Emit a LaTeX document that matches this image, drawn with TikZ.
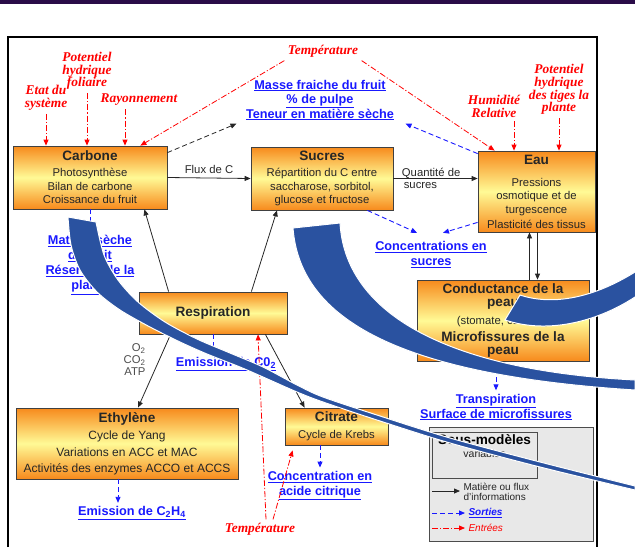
\documentclass[tikz,border=0pt]{standalone}
\usepackage{fontspec}
\setmainfont{Liberation Serif}
\setsansfont{Liberation Sans}
\usetikzlibrary{arrows.meta, calc, positioning}

\definecolor{boxorange}{RGB}{247,138,28}
\definecolor{boxyellow}{RGB}{255,250,150}
\definecolor{swooshblue}{RGB}{42,82,160}
\definecolor{sortieblue}{RGB}{25,25,255}
\definecolor{barpurple}{RGB}{42,12,72}

\newcommand{\titre}[1]{{\fontsize{13.6}{15}\selectfont\bfseries #1}}

\begin{document}
\begin{tikzpicture}[x=1pt, y=-1pt, >={Triangle[length=6pt,width=5pt]},
    modele/.style={draw=black!75, line width=0.8pt, top color=boxorange, bottom color=boxorange, middle color=boxyellow, align=center, inner sep=0pt, text=black!85, font=\sffamily\fontsize{11.3}{13.5}\selectfont},
    sortie/.style={text=sortieblue, align=center, font=\sffamily\bfseries\fontsize{12.7}{15}\selectfont},
    entree/.style={text=red, align=center, font=\rmfamily\bfseries\itshape\fontsize{13.4}{12.6}\selectfont},
    etiq/.style={text=black!85, font=\sffamily\fontsize{11.3}{12}\selectfont},
    flux/.style={->, black!85, line width=0.8pt},
    fluxpointille/.style={->, black!85, line width=0.8pt, dash pattern=on 5pt off 3pt},
    sortiefl/.style={->, sortieblue, line width=0.9pt, dash pattern=on 5pt off 3pt},
    entreefl/.style={->, red, line width=0.8pt, dash pattern=on 6pt off 2pt on 1.2pt off 2pt},
    vague/.style={fill=swooshblue, draw=white, line width=1pt}]

    % fond, bandeau et cadre
    \useasboundingbox (0,0) rectangle (635,547);
    \fill[barpurple] (0,0) rectangle (635,4);
    \draw[line width=1.6pt] (8,547) -- (8,37) -- (597,37) -- (597,547);

    % sous-modeles
    \node[modele, minimum width=154pt, minimum height=63pt] (carbone) at (90,177.5) {\titre{Carbone}\\[2.5pt] Photosynthèse\\ Bilan de carbone\\ Croissance du fruit};
    \node[modele, minimum width=142pt, minimum height=63pt] (sucres) at (322,178.5) {\titre{Sucres}\\[2.5pt] Répartition du C entre\\ saccharose, sorbitol,\\ glucose et fructose};
    \node[modele, minimum width=117pt, minimum height=81pt] (eau) at (536.5,191.5) {\titre{Eau}\\[8.5pt] Pressions\\ osmotique et de\\ turgescence\\[1.5pt] Plasticité des tissus};
    \node[modele, minimum width=172pt, minimum height=81pt, font=\sffamily\fontsize{11.3}{13.2}\selectfont] (conductance) at (503,320.5) {\titre{Conductance de la}\\ \titre{peau}\\[4pt] (stomate, cuticule)\\[4pt] \titre{Microfissures de la}\\ \titre{peau}};
    \node[modele, minimum width=148pt, minimum height=42pt] (respiration) at (213,313) {\titre{Respiration}};
    \node[modele, minimum width=222pt, minimum height=71pt, font=\sffamily\fontsize{12}{13.5}\selectfont] (ethylene) at (127,443.5) {\titre{Ethylène}\\[3.5pt] Cycle de Yang\\[4pt] Variations en ACC et MAC\\[2.5pt] Activités des enzymes ACCO et ACCS};
    \node[modele, minimum width=103pt, minimum height=37pt] (citrate) at (336.5,426.5) {\titre{Citrate}\\[3.5pt] Cycle de Krebs};

    % entrees
    \node[entree] (tempHaut) at (323,51) {Température};
    \node[entree] (potFoliaire) at (87,71) {Potentiel\\ hydrique\\ foliaire};
    \node[entree] (etat) at (46,98) {Etat du\\ système};
    \node[entree] (rayonnement) at (139,100) {Rayonnement};
    \node[entree] (humidite) at (494,106.5) {Humidité\\ Relative};
    \node[entree] (potTiges) at (559,89.5) {Potentiel\\ hydrique\\ des tiges la\\ plante};
    \node[entree] (tempBas) at (260,529) {Température};

    % sorties
    \node[sortie, font=\sffamily\bfseries\fontsize{12.7}{14.5}\selectfont] (masse) at (320,100) {\underline{Masse fraiche du fruit}\\ \underline{\% de pulpe}\\ \underline{Teneur en matière sèche}};
    \node[sortie] (matSeche) at (90,265) {\underline{Matière sèche}\\ \underline{du fruit}\\ \underline{Réserves de la}\\ \underline{plante}};
    \node[sortie] (concSucres) at (431,254.5) {\underline{Concentrations en}\\ \underline{sucres}};
    \node[sortie] (transpiration) at (496,407) {\underline{Transpiration}\\ \underline{Surface de microfissures}};
    \node[sortie] (emisCO) at (226,364) {\underline{Emission de C0\textsubscript{2}}};
    \node[sortie] (emisEthyl) at (132,513) {\underline{Emission de C\textsubscript{2}H\textsubscript{4}}};
    \node[sortie] (concCitr) at (320,485.5) {\underline{Concentration en}\\ \underline{acide citrique}};

    % flux de matiere
    \draw[flux] (carbone.east) -- (sucres.west) node[midway, above=1pt, etiq] (fluxC) {Flux de C};
    \node[etiq, anchor=west, align=left] (qteSucres) at ([xshift=5pt]sucres.east) {Quantité de\\ \,sucres};
    \draw[flux] (sucres.east) -- (sucres.east -| eau.west);
    \draw[flux] ([xshift=-7pt]eau.south |- conductance.north) -- ([xshift=-7pt]eau.south);
    \draw[flux] ([xshift=1pt]eau.south) -- ([xshift=1pt]eau.south |- conductance.north);
    \draw[flux] ([xshift=30pt]respiration.north west) -- ([xshift=-23pt]carbone.south east);
    \draw[flux] ([xshift=-36pt]respiration.north east) -- ([xshift=-45pt]sucres.south);
    \draw[flux] ([xshift=32pt]respiration.south west) -- ([xshift=11pt]ethylene.north);
    \draw[flux] ([xshift=-22pt]respiration.south east) -- ([xshift=20pt]citrate.north west);
    \node[etiq, text=black!70, anchor=east, align=right] (gaz) at (149,360) {O\textsubscript{2}\\ CO\textsubscript{2}\\ ATP};
    \draw[fluxpointille] ([yshift=-7pt]carbone.north east) -- ([xshift=-6pt]masse.south west);

    % fleches des entrees
    \draw[entreefl] (tempHaut.south west) -- ([xshift=-27pt]carbone.north east);
    \draw[entreefl] (tempHaut.south east) -- ([xshift=17pt]eau.north west);
    \draw[entreefl] (potFoliaire.south) -- (potFoliaire.south |- carbone.north);
    \draw[entreefl] (etat.south) -- (etat.south |- carbone.north);
    \draw[entreefl] ([xshift=-14pt]rayonnement.south) -- ([xshift=-14pt]rayonnement.south |- carbone.north);
    \draw[entreefl] ([xshift=20pt]humidite.south) -- ([xshift=20pt]humidite.south |- eau.north);
    \draw[entreefl] (potTiges.south) -- (potTiges.south |- eau.north);
    \draw[entreefl] ([xshift=6pt]tempBas.north) -- ([xshift=45pt]respiration.south);
    \draw[entreefl] ([xshift=13pt]tempBas.north) -- ([xshift=8pt,yshift=-5pt]citrate.south west);

    % fleches des sorties
    \draw[sortiefl] ([yshift=-3pt]eau.north west) -- ([xshift=8pt]masse.south east);
    \draw[sortiefl] ([xshift=-26pt]sucres.south east) -- ([xshift=-14pt,yshift=5pt]concSucres.north);
    \draw[sortiefl] ([yshift=10pt]eau.south west) -- ([xshift=12pt,yshift=5pt]concSucres.north);
    \draw[sortiefl] (carbone.south) -- (matSeche.north);
    \draw[sortiefl] (transpiration.north |- conductance.south) -- (transpiration.north);
    \draw[sortiefl] (respiration.south) -- (respiration.south |- emisCO.north);
    \draw[sortiefl] ([xshift=-9pt]ethylene.south) -- ([xshift=-9pt]ethylene.south |- emisEthyl.north);
    \draw[sortiefl] (concCitr.north |- citrate.south) -- (concCitr.north);

    % legende
    \node[draw=black!70, fill=black!9, line width=0.8pt, minimum width=164pt, minimum height=114pt] (legende) at (511,484) {};
    \node[draw=black!70, fill=black!9, line width=0.8pt, minimum width=105pt, minimum height=46pt] (sousModele) at (484.5,455) {};
    \node[anchor=north, inner sep=3pt, font=\sffamily\bfseries\fontsize{13.6}{15}\selectfont] (sousModeleT) at (sousModele.north) {Sous-modèles};
    \node[below=1pt of sousModeleT, inner sep=1pt, etiq, font=\sffamily\fontsize{10.5}{12}\selectfont] (variables) {variables};
    \coordinate (legFlux) at (432,491);
    \coordinate (legSortie) at (432,513);
    \coordinate (legEntree) at (432,528);
    \node[anchor=west, align=left, etiq, font=\sffamily\fontsize{10}{9.5}\selectfont] (legFluxT) at (460,492) {Matière ou flux\\ d'informations};
    \node[anchor=west, text=sortieblue, font=\sffamily\bfseries\itshape\fontsize{10}{12}\selectfont] (legSortieT) at (465,513) {\underline{Sorties}};
    \node[anchor=west, text=red, font=\sffamily\itshape\fontsize{10}{12}\selectfont] (legEntreeT) at (465,528) {Entrées};
    \draw[flux] (legFlux) -- (legFlux -| legFluxT.west);
    \draw[sortiefl] (legSortie) -- (legSortieT.west);
    \draw[entreefl] (legEntree) -- (legEntreeT.west);

    % grandes fleches bleues par-dessus
    \draw[vague] plot[smooth] coordinates {(68,217) (71,245) (80,270) (97,292) (120,310) (150,327) (180,342) (207,354) (240,367) (263,377) (297,392) (323,402) (380,421) (450,443) (540,467) (635,490)}
        -- plot[smooth] coordinates {(635,486) (540,462) (450,438) (380,416) (323,397) (297,385) (263,367) (230,353) (197,339) (165,322) (138,302) (118,280) (104,255) (96,222)} -- cycle;
    \draw[vague] (293,228) .. controls (300,320) and (400,375) .. (635,390)
        -- (635,380) .. controls (440,370) and (345,310) .. (340,223) -- cycle;
    \draw[vague] (635,272) .. controls (590,300) and (550,305) .. (520,295)
        -- (505,320) .. controls (550,335) and (600,320) .. (635,297);

\end{tikzpicture}
\end{document}
